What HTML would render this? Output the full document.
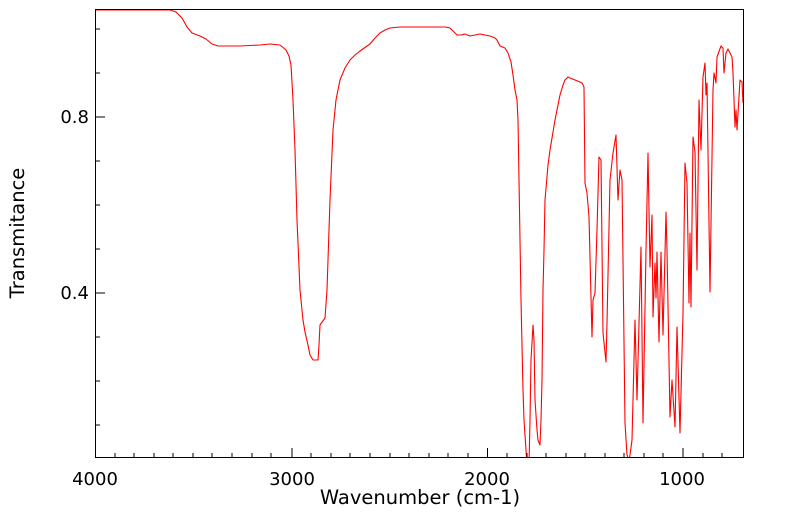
<!DOCTYPE html>
<html><head><meta charset="utf-8"><style>
body{margin:0;background:#fff;}
svg{display:block;font-family:"DejaVu Sans","Liberation Sans",sans-serif;}
</style></head><body>
<svg width="799" height="516" viewBox="0 0 799 516" xmlns="http://www.w3.org/2000/svg">
<defs><clipPath id="c"><rect x="95.5" y="9.5" width="648" height="448"/></clipPath></defs>
<g clip-path="url(#c)">
<polyline fill="none" stroke="#ff0000" stroke-width="1.1" stroke-linejoin="round" points="
95,10 170,10 176,12 182,18 187,27 192,33 200,36 206,39 212,44 218,46 240,46 260,45 270,44 280,45 286,50 289,56 291,65 293,100 295,150 297,220 300,290 303,320 305,332 308,345 310,355 313,360 318,360 319,345 320,325 325,318 327,290 330,200 333,130 336,100 340,80 345,68 350,60 355,55 360,51 370,44 375,38 380,33 385,30 390,28 400,27 445,27 450,28 453,31 457,35 461,35 465,34 470,36 475,35 480,34 485,35 490,36 495,38 497,40 500,46 505,48 508,53 511,62 513,75 515,90 517,100 518,120 519,180 521,300 523,390 524,420 526,450 527,465 529,465 530,420 531,360 533,325 534,340 535,400 537,430 538,440 540,445 541,420 542,380 543,290 544,250 545,200 548,165 550,150 555,120 558,105 560,95 563,85 565,80 568,77 570,78 575,80 580,82 582,83 584,87 585,183 587,193 589,217 592,337 593,300 595,293 597,230 599,157 601,160 603,333 606,362 607,323 610,180 613,153 616,135 618,200 620,170 622,180 625,423 627,455 629,460 630,455 632,440 635,320 637,400 641,247 643,423 646,250 648,153 650,267 652,215 653,317 655,263 656,298 657,252 659,342 661,252 663,335 666,212 667,250 670,417 672,380 675,427 677,327 680,433 683,313 685,163 687,183 689,303 690,233 691,307 693,137 695,152 697,270 699,100 701,150 703,77 705,63 706,95 707,83 710,292 713,90 714,73 716,83 717,57 721,46 723,48 724,73 726,53 728,49 732,57 733,73 735,127 736,110 737,130 740,80 742,82 743,103"/>
</g>
<rect x="95.5" y="9.5" width="648" height="448" fill="none" stroke="#000" stroke-width="1"/>
<g stroke="#000" stroke-width="1">
<line x1="95.5" y1="117" x2="105" y2="117"/><line x1="95.5" y1="293" x2="105" y2="293"/>
<line x1="95.5" y1="29" x2="100" y2="29"/><line x1="95.5" y1="73" x2="100" y2="73"/>
<line x1="95.5" y1="161" x2="100" y2="161"/><line x1="95.5" y1="205" x2="100" y2="205"/>
<line x1="95.5" y1="249" x2="100" y2="249"/><line x1="95.5" y1="337" x2="100" y2="337"/>
<line x1="95.5" y1="381" x2="100" y2="381"/><line x1="95.5" y1="425" x2="100" y2="425"/>
<line x1="292" y1="457.5" x2="292" y2="448"/><line x1="487.5" y1="457.5" x2="487.5" y2="448"/><line x1="683" y1="457.5" x2="683" y2="448"/>
<line x1="115" y1="457.5" x2="115" y2="453"/><line x1="134" y1="457.5" x2="134" y2="453"/><line x1="154" y1="457.5" x2="154" y2="453"/><line x1="173" y1="457.5" x2="173" y2="453"/><line x1="193" y1="457.5" x2="193" y2="453"/><line x1="212" y1="457.5" x2="212" y2="453"/><line x1="232" y1="457.5" x2="232" y2="453"/><line x1="252" y1="457.5" x2="252" y2="453"/><line x1="271" y1="457.5" x2="271" y2="453"/>
<line x1="311" y1="457.5" x2="311" y2="453"/><line x1="331" y1="457.5" x2="331" y2="453"/><line x1="350" y1="457.5" x2="350" y2="453"/><line x1="370" y1="457.5" x2="370" y2="453"/><line x1="390" y1="457.5" x2="390" y2="453"/><line x1="409" y1="457.5" x2="409" y2="453"/><line x1="429" y1="457.5" x2="429" y2="453"/><line x1="448" y1="457.5" x2="448" y2="453"/><line x1="468" y1="457.5" x2="468" y2="453"/>
<line x1="507" y1="457.5" x2="507" y2="453"/><line x1="527" y1="457.5" x2="527" y2="453"/><line x1="546" y1="457.5" x2="546" y2="453"/><line x1="566" y1="457.5" x2="566" y2="453"/><line x1="585" y1="457.5" x2="585" y2="453"/><line x1="605" y1="457.5" x2="605" y2="453"/><line x1="624" y1="457.5" x2="624" y2="453"/><line x1="644" y1="457.5" x2="644" y2="453"/><line x1="663" y1="457.5" x2="663" y2="453"/>
<line x1="703" y1="457.5" x2="703" y2="453"/><line x1="722" y1="457.5" x2="722" y2="453"/>
</g>
<g font-size="18" fill="#000">
<text x="89" y="123" text-anchor="end">0.8</text>
<text x="89" y="299" text-anchor="end">0.4</text>
<text x="95" y="485" text-anchor="middle">4000</text>
<text x="292" y="485" text-anchor="middle">3000</text>
<text x="487" y="485" text-anchor="middle">2000</text>
<text x="682" y="485" text-anchor="middle">1000</text>
</g>
<g font-size="19.5" fill="#000">
<text x="420" y="504" text-anchor="middle">Wavenumber (cm-1)</text>
<text transform="translate(24,233) rotate(-90)" text-anchor="middle">Transmitance</text>
</g>
</svg>
</body></html>
